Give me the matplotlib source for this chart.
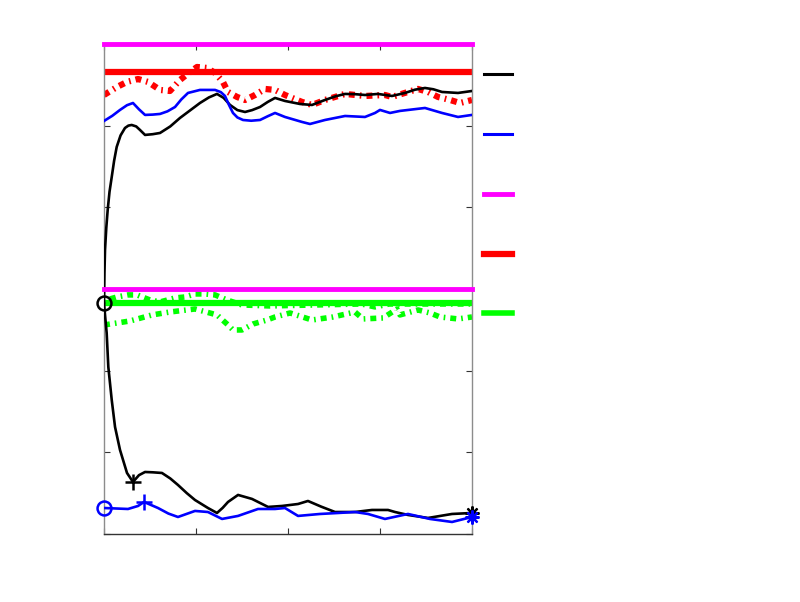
import matplotlib
matplotlib.use("Agg")
import matplotlib.pyplot as plt
from matplotlib.lines import Line2D
import numpy as np

# ---------------- data ----------------
# upper response (black) and its twin (blue)
black_up_x = [0, 0.005, 0.011, 0.025, 0.040, 0.060, 0.084, 0.110, 0.138, 0.180, 0.228, 0.265,
              0.301, 0.350, 0.391, 0.446, 0.530, 0.609, 0.720, 0.826, 0.940, 1.043, 1.140,
              1.228, 1.300, 1.370, 1.450, 1.533, 1.610, 1.696, 1.780, 1.859, 1.967, 2.130,
              2.261, 2.402, 2.520, 2.620, 2.730, 2.837, 2.978, 3.130, 3.272, 3.380, 3.489,
              3.580, 3.674, 3.848, 4.0]
black_up_y = [-0.171, 0.20, 0.478, 0.75, 0.967, 1.190, 1.371, 1.570, 1.739, 1.880, 1.971, 2.000,
              2.008, 1.990, 1.947, 1.886, 1.895, 1.910, 1.990, 2.094, 2.190, 2.277, 2.345,
              2.388, 2.340, 2.253, 2.190, 2.167, 2.190, 2.228, 2.290, 2.339, 2.302, 2.265,
              2.253, 2.314, 2.360, 2.388, 2.385, 2.375, 2.388, 2.363, 2.400, 2.440, 2.461,
              2.445, 2.412, 2.400, 2.424]

blue_up_x = [0, 0.090, 0.174, 0.250, 0.315, 0.380, 0.446, 0.530, 0.609, 0.690, 0.772, 0.840,
             0.913, 1.043, 1.207, 1.270, 1.315, 1.360, 1.402, 1.450, 1.511, 1.600, 1.696,
             1.780, 1.859, 1.967, 2.152, 2.239, 2.402, 2.620, 2.837, 2.946, 3.0, 3.109, 3.217,
             3.489, 3.674, 3.848, 4.0]
blue_up_y = [2.057, 2.120, 2.192, 2.250, 2.277, 2.200, 2.131, 2.135, 2.143, 2.175, 2.228, 2.320,
             2.400, 2.437, 2.437, 2.410, 2.363, 2.250, 2.155, 2.100, 2.069, 2.060, 2.069,
             2.115, 2.155, 2.106, 2.045, 2.020, 2.069, 2.118, 2.106, 2.155, 2.192, 2.155, 2.180,
             2.216, 2.155, 2.106, 2.131]

# lower response (black) and its twin (blue)
black_lo_x = [0, 0.012, 0.029, 0.047, 0.084, 0.120, 0.174, 0.250, 0.315, 0.380, 0.446, 0.530,
              0.630, 0.720, 0.804, 0.900, 0.989, 1.130, 1.228, 1.290, 1.348, 1.457, 1.609,
              1.783, 1.935, 2.022, 2.109, 2.217, 2.360, 2.511, 2.728, 2.913, 3.087, 3.163,
              3.304, 3.522, 3.783, 4.0]
black_lo_y = [-0.171, -0.330, -0.539, -0.955, -1.359, -1.690, -1.971, -2.253, -2.363, -2.280,
              -2.241, -2.245, -2.253, -2.320, -2.400, -2.500, -2.584, -2.682, -2.743, -2.680,
              -2.608, -2.522, -2.571, -2.669, -2.657, -2.645, -2.633, -2.596, -2.665, -2.731,
              -2.731, -2.706, -2.706, -2.731, -2.767, -2.804, -2.755, -2.743]
black_lo_plus = 8   # index of the '+' marker

blue_lo_x = [0, 0.261, 0.370, 0.435, 0.587, 0.700, 0.804, 0.989, 1.130, 1.283, 1.457, 1.674,
             1.859, 1.967, 2.109, 2.348, 2.543, 2.728, 2.870, 3.054, 3.304, 3.543, 3.783, 4.0]
blue_lo_y = [-2.682, -2.694, -2.657, -2.608, -2.682, -2.750, -2.792, -2.718, -2.731, -2.816,
             -2.779, -2.694, -2.694, -2.682, -2.779, -2.755, -2.743, -2.731, -2.755, -2.816,
             -2.755, -2.816, -2.853, -2.792]
blue_lo_plus = 3

# reference levels
magenta_levels = [3.0, 0.0]
red_level = 2.657
green_level = -0.171

# dash-dot estimates
red_dd_x = [0, 0.141, 0.250, 0.370, 0.478, 0.609, 0.717, 0.826, 0.935, 1.011, 1.120, 1.207,
            1.293, 1.348, 1.446, 1.533, 1.641, 1.750, 1.859, 1.967, 2.152, 2.261, 2.402,
            2.620, 2.837, 3.054, 3.130, 3.304, 3.413, 3.522, 3.630, 3.761, 3.870, 4.0]
red_dd_y = [2.375, 2.473, 2.535, 2.571, 2.535, 2.437, 2.424, 2.559, 2.657, 2.718, 2.706, 2.645,
            2.535, 2.412, 2.351, 2.314, 2.375, 2.449, 2.437, 2.375, 2.290, 2.253, 2.314,
            2.388, 2.363, 2.375, 2.351, 2.412, 2.449, 2.412, 2.351, 2.314, 2.277, 2.314]

green_dd1_x = [0.065, 0.141, 0.261, 0.359, 0.5, 0.609, 0.772, 0.880, 0.989, 1.098, 1.207,
               1.337, 1.5, 1.8, 2.8, 2.946, 3.1, 4.0]
green_dd1_y = [-0.122, -0.098, -0.073, -0.073, -0.135, -0.159, -0.110, -0.098, -0.061, -0.061,
               -0.073, -0.135, -0.196, -0.208, -0.184, -0.220, -0.184, -0.184]

green_dd2_x = [0, 0.283, 0.522, 0.717, 0.989, 1.228, 1.348, 1.402, 1.5, 1.620, 1.772, 1.859,
               2.022, 2.261, 2.489, 2.728, 2.815, 3.033, 3.185, 3.217, 3.413, 3.543, 3.652,
               3.848, 4.0]
green_dd2_y = [-0.441, -0.392, -0.318, -0.282, -0.245, -0.318, -0.441, -0.502, -0.502, -0.429,
               -0.380, -0.343, -0.294, -0.380, -0.343, -0.282, -0.367, -0.355, -0.245, -0.318,
               -0.257, -0.294, -0.343, -0.367, -0.343]

xlim = (0, 4)
ylim = (-3, 3)
xticks = [0, 1, 2, 3, 4]
yticks = [-3, -2, -1, 0, 1, 2, 3]

# ---------------- figure ----------------
plt.rcParams['lines.scale_dashes'] = False
fig = plt.figure(figsize=(8.0, 6.02), dpi=100)
ax = fig.add_axes([0.13, 0.113, 0.46, 0.814])

DD = (0, (4.3, 3.6, 1.2, 3.6))

l_black, = ax.plot(black_up_x, black_up_y, color='black', lw=1.9, zorder=3)
ax.plot(black_lo_x, black_lo_y, color='black', lw=1.9, zorder=3)
l_blue, = ax.plot(blue_up_x, blue_up_y, color='#0000ff', lw=1.9, zorder=3)
ax.plot(blue_lo_x, blue_lo_y, color='#0000ff', lw=1.9, zorder=3)

for lv in magenta_levels:
    ax.axhline(lv, color='#ff00ff', lw=3.5, zorder=4, clip_on=False)
ax.axhline(red_level, color='#ff0000', lw=4.5, zorder=2)
ax.plot(red_dd_x, red_dd_y, color='#ff0000', lw=4.5, linestyle=DD, zorder=2)
ax.axhline(green_level, color='#00ff00', lw=4.5, zorder=2)
ax.plot(green_dd1_x, green_dd1_y, color='#00ff00', lw=4.0, linestyle=DD, zorder=1.5)
ax.plot(green_dd2_x, green_dd2_y, color='#00ff00', lw=4.0, linestyle=DD, zorder=1.5)

# markers: start, peak, end
ASTER = (8, 2, 0)
ax.plot(black_up_x[0], black_up_y[0], 'o', mfc='none', mec='black', ms=10, mew=1.8,
        zorder=6, clip_on=False)
ax.plot(blue_lo_x[0], blue_lo_y[0], 'o', mfc='none', mec='#0000ff', ms=10, mew=1.8,
        zorder=6, clip_on=False)
ax.plot(black_lo_x[black_lo_plus], black_lo_y[black_lo_plus], '+', color='black', ms=11,
        mew=1.8, zorder=6, clip_on=False)
ax.plot(blue_lo_x[blue_lo_plus], blue_lo_y[blue_lo_plus], '+', color='#0000ff', ms=11,
        mew=1.8, zorder=6, clip_on=False)
ax.plot(black_lo_x[-1], black_lo_y[-1], marker=ASTER, color='black', ms=10, mew=1.6,
        zorder=6, clip_on=False, linestyle='none')
ax.plot(blue_lo_x[-1], blue_lo_y[-1], marker=ASTER, color='#0000ff', ms=10, mew=1.6,
        zorder=6, clip_on=False, linestyle='none')

ax.set_xlim(*xlim)
ax.set_ylim(*ylim)
ax.set_xticks(xticks)
ax.set_yticks(yticks)
ax.set_xticklabels([])
ax.set_yticklabels([])
ax.tick_params(direction='in', length=4, width=0.8, color='#333333',
               top=True, right=True)
for s in ['left', 'right', 'top']:
    ax.spines[s].set_color('#8c8c8c')
ax.spines['bottom'].set_color('#333333')
for s in ax.spines.values():
    s.set_linewidth(1.0)

handles = [Line2D([], [], color='black', lw=2.2),
           Line2D([], [], color='#0000ff', lw=2.2),
           Line2D([], [], color='#ff00ff', lw=3.5),
           Line2D([], [], color='#ff0000', lw=4.5),
           Line2D([], [], color='#00ff00', lw=4.0)]
ax.legend(handles, [' '] * 5, loc='upper left', bbox_to_anchor=(0.605, 0.887),
          bbox_transform=fig.transFigure, frameon=False, borderpad=0, borderaxespad=0,
          handlelength=2.0, labelspacing=3.30, fontsize=10)

fig.savefig('out.png', dpi=100)
